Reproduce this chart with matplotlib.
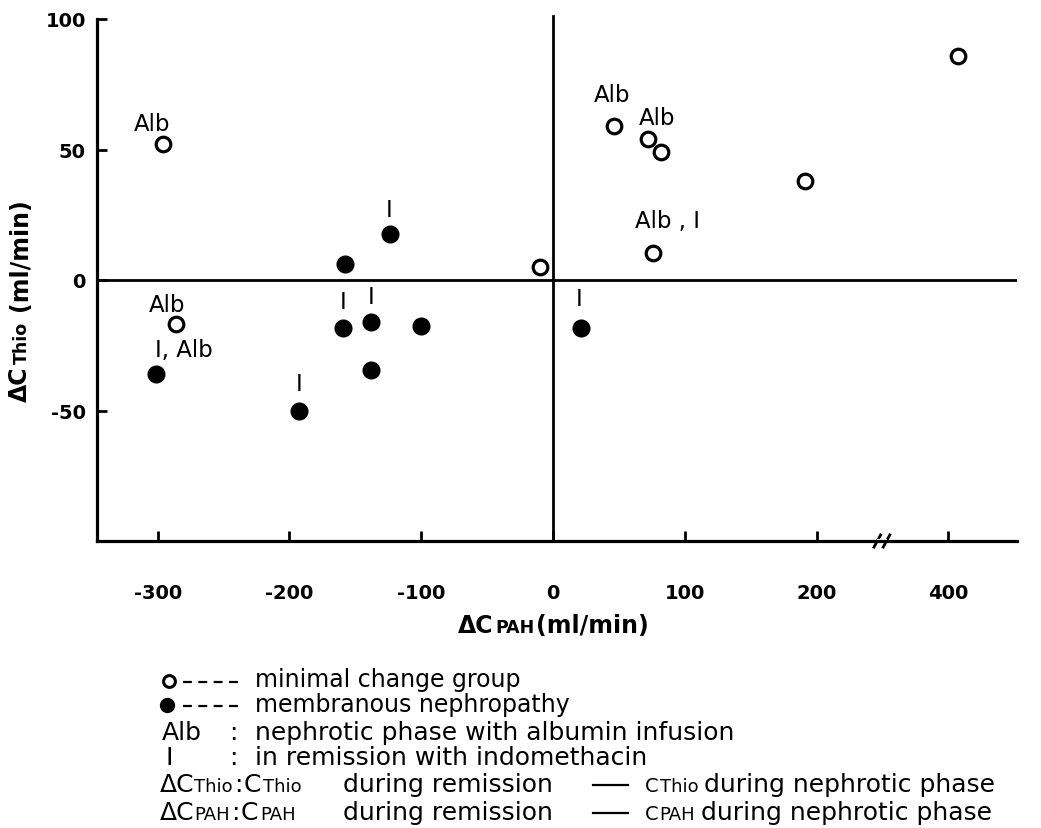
import matplotlib
matplotlib.use('Agg')
import matplotlib.pyplot as plt

W, H = 1041, 829

# minimal change group (open circles)
mc_x = [-296, -286, -10, 46, 72, 82, 76, 191, 407]
mc_y = [52, -17, 5, 59, 54, 49, 10.5, 38, 86]
mc_lab = ['Alb', 'Alb', '', 'Alb', 'Alb', '', 'Alb , I', '', '']

# membranous nephropathy (filled circles)
mn_x = [-301, -193, -159, -158, -138, -138, -124, -100, 21]
mn_y = [-36, -50, -18.5, 6, -16, -34.5, 17.5, -17.5, -18.5]
mn_lab = ['I, Alb', 'I', 'I', '', 'I', '', 'I', '', 'I']

x_ticks = [-300, -200, -100, 0, 100, 200, 400]
y_ticks = [-50, 0, 50, 100]

# label offsets in pixels (dx, dy downwards)
mc_off = [(-11, -21), (-9, -20), None, (-2, -32), (9, -22), None, (14, -32), None, None]
mn_off = [(28, -24), (0, -27), (0, -27), None, (0, -25), None, (0, -25), None, (-2, -30)]


def disp(v):
    # axis is broken between 200 and 400
    return v if v <= 250 else v - 100


fig = plt.figure(figsize=(W / 100, H / 100), dpi=100)
ax = fig.add_axes([97 / W, 1 - 542 / H, (1017 - 97) / W, (542 - 20) / H])
ax.set_xlim(-346, 352)
ax.set_ylim(-100, 100)

for s in ['top', 'right']:
    ax.spines[s].set_visible(False)
for s in ['left', 'bottom']:
    ax.spines[s].set_linewidth(2.3)

ax.axhline(0, color='black', lw=2.0)
ax.axvline(0, ymin=0, ymax=1.005, color='black', lw=2.0, clip_on=False)

ax.set_xticks([disp(v) for v in x_ticks])
ax.set_xticklabels([str(v) for v in x_ticks])
ax.set_yticks(y_ticks)
ax.set_yticklabels([str(v) for v in y_ticks])
ax.tick_params(axis='x', direction='in', length=7, width=2, pad=30, labelsize=14)
ax.tick_params(axis='y', direction='in', length=7, width=2, pad=8, labelsize=14)
plt.setp(ax.get_xticklabels() + ax.get_yticklabels(), fontweight='bold')

# axis break
for x0 in [243, 250]:
    ax.plot([x0, x0 + 6], [-102.8, -97.2], color='black', lw=2, clip_on=False,
            solid_capstyle='butt')
ax.plot([247.5, 251.5], [-100, -100], color='white', lw=3, clip_on=False)

ax.plot([disp(v) for v in mc_x], mc_y, 'o', mfc='white', mec='black', mew=2.3,
        ms=10.5, ls='', zorder=5)
ax.plot([disp(v) for v in mn_x], mn_y, 'o', color='black', ms=12, ls='', zorder=5)

for xs, ys, labs, offs in [(mc_x, mc_y, mc_lab, mc_off), (mn_x, mn_y, mn_lab, mn_off)]:
    for x, y, lab, off in zip(xs, ys, labs, offs):
        if lab:
            ax.annotate(lab, (disp(x), y), xytext=(off[0] * 0.72, -off[1] * 0.72),
                        textcoords='offset points', ha='center', va='center',
                        fontsize=16.5)

renderer = fig.canvas.get_renderer()


def tw(s, size, weight='normal'):
    t = fig.text(0, 0, s, fontsize=size, fontweight=weight)
    w = t.get_window_extent(renderer).width
    t.remove()
    return w


def put(x, y, s, size=16, weight='normal', **kw):
    # x, y in pixels from top left, y is the baseline
    return fig.text(x / W, 1 - y / H, s, fontsize=size, fontweight=weight,
                    ha='left', va='baseline', **kw)


def put_row(x, y, parts, weight='normal', rot=False):
    # parts: (text, size, gap_after); returns end position
    for s, size, gap in parts:
        if rot:
            fig.text(x / W, 1 - y / H, s, fontsize=size, fontweight=weight,
                     rotation=90, rotation_mode='anchor', ha='left', va='baseline')
            y -= tw(s, size, weight) + gap
        else:
            put(x, y, s, size, weight)
            x += tw(s, size, weight) + gap
    return x, y


def hline(x0, x1, y, **kw):
    fig.lines.append(plt.Line2D([x0 / W, x1 / W], [1 - y / H] * 2, color='black',
                                transform=fig.transFigure, **kw))


# x label
xparts = [('ΔC', 17, 2), ('PAH', 12.5, 1), ('(ml/min)', 17, 0)]
tot = sum(tw(s, z, 'bold') + g for s, z, g in xparts)
put_row(553 - tot / 2, 633, xparts, weight='bold')

# y label
yparts = [('ΔC', 17, 2), ('Thio', 12.5, 11), ('(ml/min)', 17, 0)]
tot = sum(tw(s, z, 'bold') + g for s, z, g in yparts)
put_row(27, 300 + tot / 2, yparts, weight='bold', rot=True)

# legend
fs1 = 17
fs = 18
small = 13
fig.lines.append(plt.Line2D([169 / W], [1 - 682 / H], marker='o', mfc='white',
                            mec='black', mew=2.2, ms=8.5, transform=fig.transFigure))
fig.lines.append(plt.Line2D([167 / W], [1 - 706 / H], marker='o', color='black',
                            ms=10, transform=fig.transFigure))
hline(183, 240, 683, lw=1.6, dashes=(4.0, 2.9))
put(255, 687, 'minimal change group', fs1)
hline(183, 240, 707, lw=1.6, dashes=(4.0, 2.9))
put(255, 712, 'membranous nephropathy', fs1)
put(162, 740, 'Alb', fs)
put(229, 740, ':', fs)
put(255, 740, 'nephrotic phase with albumin infusion', fs)
put(165, 765, 'I', fs)
put(229, 765, ':', fs)
put(255, 765, 'in remission with indomethacin', fs)

for yb, sub in [(792, 'Thio'), (820, 'PAH')]:
    put_row(160, yb, [('ΔC', fs, 0), (sub, small, 1), (':', fs, 1), ('C', fs, 2), (sub, small, 0)])
    put(343, yb, 'during remission', fs)
    hline(593, 628, yb - 6, lw=1.6)
    x, _ = put_row(645, yb, [('C', 14, 1), (sub, small, 6)])
    put(x, yb, 'during nephrotic phase', fs)

fig.savefig('out.png', dpi=100)
